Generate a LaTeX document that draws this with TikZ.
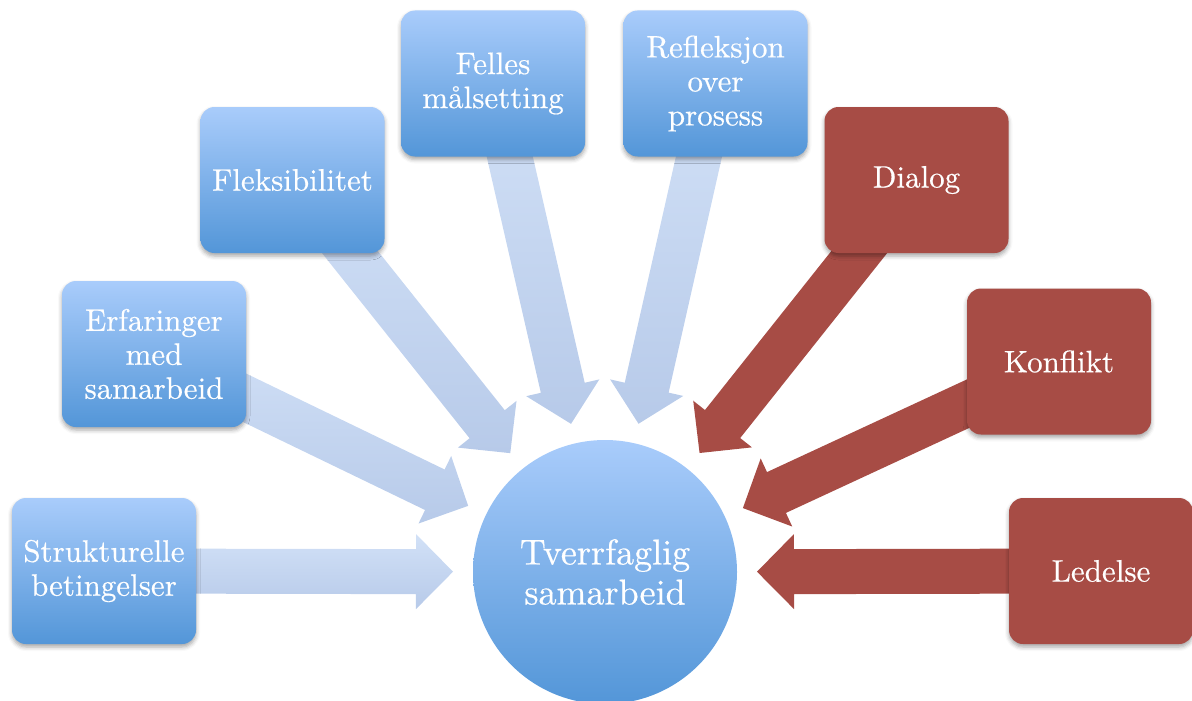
\documentclass[tikz,border=0pt]{standalone}
\usepackage{fontspec}
\setmainfont{lmroman10-regular}[Extension=.otf,FakeBold=0.5]
\usetikzlibrary{calc,shadows.blur,backgrounds}
\definecolor{boxtop}{RGB}{169,204,251}
\definecolor{boxbot}{RGB}{83,150,216}
\definecolor{arrtop}{RGB}{210,225,247}
\definecolor{arrbot}{RGB}{183,202,233}
\definecolor{redfill}{RGB}{167,76,69}
\newcommand{\blockarr}[2]{%
  \coordinate (T) at ($(hub.center)!152pt!(#2.center)$);
  \coordinate (H) at ($(T)!37pt!(#2.center)$);
  \path[#1] (T) -- ($(H)!37.5pt!90:(#2.center)$) -- ($(H)!22.5pt!90:(#2.center)$)
    -- ($(#2.center)!22.5pt!-90:(H)$) -- ($(#2.center)!22.5pt!90:(H)$)
    -- ($(H)!22.5pt!-90:(#2.center)$) -- ($(H)!37.5pt!-90:(#2.center)$) -- cycle;
}
\begin{document}
\begin{tikzpicture}[x=1pt,y=-1pt,
  shadowed/.style={blur shadow={shadow xshift=0pt,shadow yshift=-3pt,shadow opacity=35,shadow blur radius=4pt}},
  bluebox/.style={shadowed,rounded corners=14pt,minimum width=184pt,minimum height=146pt,inner sep=0pt,
    top color=boxtop,bottom color=boxbot,text=white,align=center,font=\fontsize{31}{34}\selectfont},
  redbox/.style={shadowed,rounded corners=14pt,minimum width=184pt,minimum height=146pt,inner sep=0pt,
    fill=redfill,text=white,align=center,font=\fontsize{31}{34}\selectfont},
  hubnode/.style={circle,minimum size=264pt,inner sep=0pt,top color=boxtop,bottom color=boxbot,
    text=white,align=center,font=\fontsize{36}{40}\selectfont},
  bluearrow/.style={top color=arrtop,bottom color=arrbot},
  redarrow/.style={fill=redfill}]
\useasboundingbox (0,0) rectangle (1192,701);
\node[hubnode] (hub) at (605,572) {Tverrfaglig\\samarbeid};
\node[bluebox] (strukt) at (104,571) {Strukturelle\\betingelser};
\node[bluebox] (erf) at (154,354) {Erfaringer\\med\\samarbeid};
\node[bluebox] (fleks) at (292.5,180) {Fleksibilitet};
\node[bluebox] (felles) at (493,83.5) {Felles\\målsetting};
\node[bluebox] (refl) at (715.5,83.5) {Refleksjon\\over\\prosess};
\node[redbox] (dialog) at (916.5,180) {Dialog};
\node[redbox] (konf) at (1059,361.5) {Konflikt};
\node[redbox] (led) at (1101,571) {Ledelse};
\begin{pgfonlayer}{background}
\blockarr{bluearrow}{strukt}
\blockarr{bluearrow}{erf}
\blockarr{bluearrow}{fleks}
\blockarr{bluearrow}{felles}
\blockarr{bluearrow}{refl}
\blockarr{redarrow}{dialog}
\blockarr{redarrow}{konf}
\blockarr{redarrow}{led}
\end{pgfonlayer}
\end{tikzpicture}
\end{document}
